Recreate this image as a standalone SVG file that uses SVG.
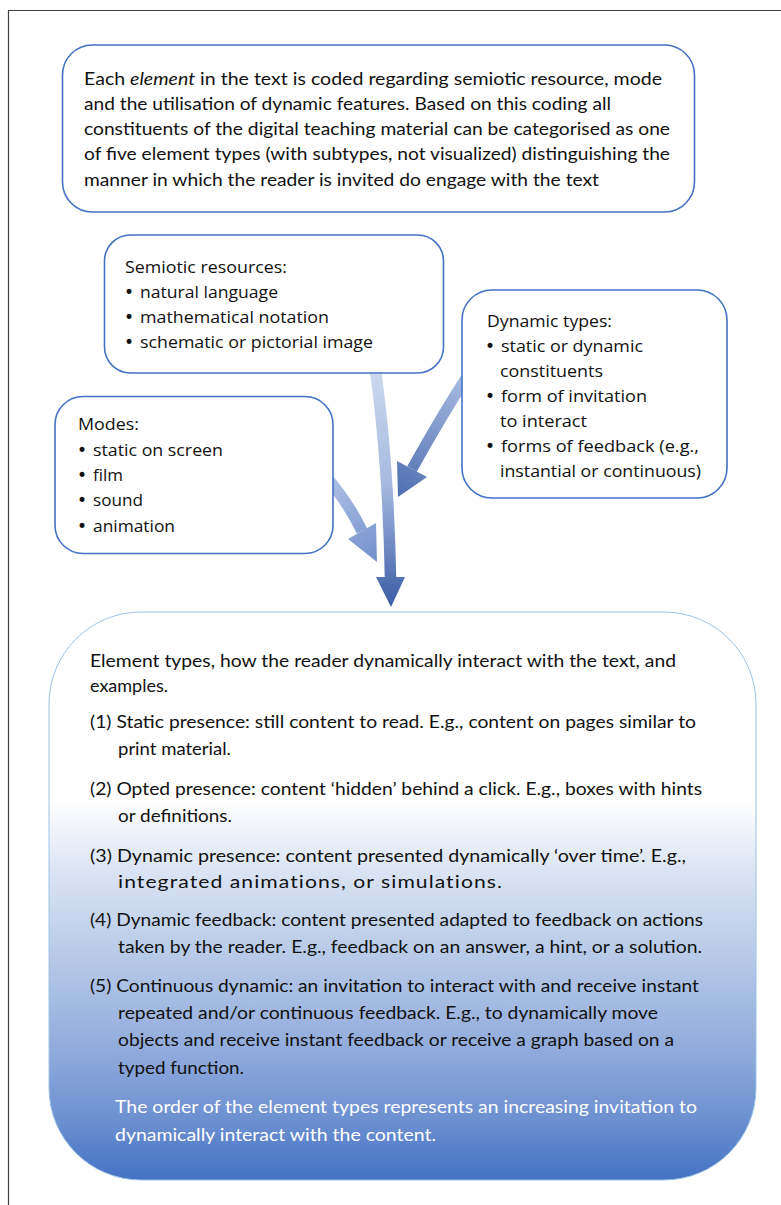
<svg xmlns="http://www.w3.org/2000/svg" width="781" height="1205" viewBox="0 0 781 1205">
<defs>
<linearGradient id="bigFill" x1="0" y1="0" x2="0" y2="1">
<stop offset="0" stop-color="#ffffff"/>
<stop offset="0.33" stop-color="#ffffff"/>
<stop offset="0.46" stop-color="#dae3f3"/>
<stop offset="0.62" stop-color="#b4c7e7"/>
<stop offset="0.78" stop-color="#8eaadb"/>
<stop offset="0.9" stop-color="#6a8ed0"/>
<stop offset="1" stop-color="#4472c4"/>
</linearGradient>
<linearGradient id="gSem" gradientUnits="userSpaceOnUse" x1="0" y1="360" x2="0" y2="607">
<stop offset="0" stop-color="#d0dbf0"/>
<stop offset="0.5" stop-color="#a6b9df"/>
<stop offset="1" stop-color="#3a5ca6"/>
</linearGradient>
<linearGradient id="gDyn" gradientUnits="userSpaceOnUse" x1="465" y1="375" x2="400" y2="495">
<stop offset="0" stop-color="#a9bce2"/>
<stop offset="1" stop-color="#5070b0"/>
</linearGradient>
<linearGradient id="gMod" gradientUnits="userSpaceOnUse" x1="330" y1="470" x2="377" y2="560">
<stop offset="0" stop-color="#b3c4e6"/>
<stop offset="1" stop-color="#7391cc"/>
</linearGradient>
</defs>
<style>
.box{fill:#ffffff;stroke:#4472c4;stroke-width:1.6}
.big{fill:url(#bigFill);stroke:#9dc3e6;stroke-width:1}
.cal{font-family:Lato,"Liberation Sans",sans-serif;font-size:18px;fill:#111111}
.seg{font-family:"Open Sans","Liberation Sans",sans-serif;font-size:16.5px;fill:#111111}
.bul{font-family:"DejaVu Sans",sans-serif;font-size:17px;fill:#111111}
.wht{fill:#ffffff}
.frame{stroke:#404040;stroke-width:1.2;fill:none}
</style>
<g id="frame">
<path class="frame" d="M8.5 1205 V10.5 H781"/>
</g>
<g id="connectors">
<path d="M374 360 Q388 455 390.5 578" fill="none" stroke="url(#gSem)" stroke-width="11.5"/>
<polygon points="376,577 405,577 391,607" fill="url(#gSem)"/>
<path d="M470 372 Q445 410 412 469" fill="none" stroke="url(#gDyn)" stroke-width="11"/>
<polygon points="397,461 427,477 398,497" fill="url(#gDyn)"/>
<path d="M322 472 Q347 500 362 531" fill="none" stroke="url(#gMod)" stroke-width="11.5"/>
<polygon points="348,539 376,523 377,562" fill="url(#gMod)"/>
</g>
<g id="node-intro">
<rect class="box" x="62.5" y="45" width="632" height="167" rx="30"/>
<text class="cal" x="84" y="85" textLength="578" lengthAdjust="spacingAndGlyphs">Each <tspan font-style="italic">element</tspan> in the text is coded regarding semiotic resource, mode</text>
<text class="cal" x="84" y="110" textLength="527" lengthAdjust="spacingAndGlyphs">and the utilisation of dynamic features. Based on this coding all</text>
<text class="cal" x="84" y="135" textLength="586" lengthAdjust="spacingAndGlyphs">constituents of the digital teaching material can be categorised as one</text>
<text class="cal" x="84" y="160" textLength="586" lengthAdjust="spacingAndGlyphs">of five element types (with subtypes, not visualized) distinguishing the</text>
<text class="cal" x="84" y="186" textLength="515" lengthAdjust="spacingAndGlyphs">manner in which the reader is invited do engage with the text</text>
</g>
<g id="node-semiotic">
<rect class="box" x="104.5" y="235" width="339" height="138" rx="26"/>
<text class="seg" x="125" y="273" textLength="162" lengthAdjust="spacingAndGlyphs">Semiotic resources:</text>
<text class="bul" x="124" y="298">•</text>
<text class="seg" x="140" y="298" textLength="138" lengthAdjust="spacingAndGlyphs">natural language</text>
<text class="bul" x="124" y="323">•</text>
<text class="seg" x="140" y="323" textLength="189" lengthAdjust="spacingAndGlyphs">mathematical notation</text>
<text class="bul" x="124" y="348">•</text>
<text class="seg" x="140" y="348" textLength="233" lengthAdjust="spacingAndGlyphs">schematic or pictorial image</text>
</g>
<g id="node-dynamic">
<rect class="box" x="462" y="290" width="265" height="208" rx="30"/>
<text class="seg" x="487" y="327" textLength="125" lengthAdjust="spacingAndGlyphs">Dynamic types:</text>
<text class="bul" x="485" y="352">•</text>
<text class="seg" x="501" y="352" textLength="142" lengthAdjust="spacingAndGlyphs">static or dynamic</text>
<text class="seg" x="500" y="377" textLength="103" lengthAdjust="spacingAndGlyphs">constituents</text>
<text class="bul" x="485" y="402">•</text>
<text class="seg" x="501" y="402" textLength="146" lengthAdjust="spacingAndGlyphs">form of invitation</text>
<text class="seg" x="500" y="427" textLength="87" lengthAdjust="spacingAndGlyphs">to interact</text>
<text class="bul" x="485" y="452">•</text>
<text class="seg" x="501" y="452" textLength="198" lengthAdjust="spacingAndGlyphs">forms of feedback (e.g.,</text>
<text class="seg" x="500" y="477" textLength="201" lengthAdjust="spacingAndGlyphs">instantial or continuous)</text>
</g>
<g id="node-modes">
<rect class="box" x="55" y="396.5" width="278" height="157" rx="28"/>
<text class="seg" x="78" y="430" textLength="61" lengthAdjust="spacingAndGlyphs">Modes:</text>
<text class="bul" x="77" y="456">•</text>
<text class="seg" x="93" y="456" textLength="130" lengthAdjust="spacingAndGlyphs">static on screen</text>
<text class="bul" x="77" y="481">•</text>
<text class="seg" x="93" y="481" textLength="30" lengthAdjust="spacingAndGlyphs">film</text>
<text class="bul" x="77" y="506">•</text>
<text class="seg" x="93" y="506" textLength="50" lengthAdjust="spacingAndGlyphs">sound</text>
<text class="bul" x="77" y="532">•</text>
<text class="seg" x="93" y="532" textLength="82" lengthAdjust="spacingAndGlyphs">animation</text>
</g>
<g id="node-element-types">
<rect class="big" x="49" y="612" width="707" height="568" rx="92"/>
<text class="cal" x="90" y="667" textLength="586" lengthAdjust="spacingAndGlyphs">Element types, how the reader dynamically interact with the text, and</text>
<text class="cal" x="90" y="692" textLength="78" lengthAdjust="spacingAndGlyphs">examples.</text>
<text class="cal" x="90" y="728" textLength="606" lengthAdjust="spacingAndGlyphs">(1) Static presence: still content to read. E.g., content on pages similar to</text>
<text class="cal" x="118" y="755" textLength="113" lengthAdjust="spacingAndGlyphs">print material.</text>
<text class="cal" x="90" y="795" textLength="612" lengthAdjust="spacingAndGlyphs">(2) Opted presence: content ‘hidden’ behind a click. E.g., boxes with hints</text>
<text class="cal" x="118" y="822" textLength="114" lengthAdjust="spacingAndGlyphs">or definitions.</text>
<text class="cal" x="90" y="862" textLength="596" lengthAdjust="spacingAndGlyphs">(3) Dynamic presence: content presented dynamically ‘over time’. E.g.,</text>
<text class="cal" x="118" y="888" letter-spacing="0.9" textLength="385" lengthAdjust="spacingAndGlyphs">integrated animations, or simulations.</text>
<text class="cal" x="90" y="926" textLength="613" lengthAdjust="spacingAndGlyphs">(4) Dynamic feedback: content presented adapted to feedback on actions</text>
<text class="cal" x="118" y="953" textLength="584" lengthAdjust="spacingAndGlyphs">taken by the reader. E.g., feedback on an answer, a hint, or a solution.</text>
<text class="cal" x="90" y="992" textLength="609" lengthAdjust="spacingAndGlyphs">(5) Continuous dynamic: an invitation to interact with and receive instant</text>
<text class="cal" x="118" y="1019" textLength="540" lengthAdjust="spacingAndGlyphs">repeated and/or continuous feedback. E.g., to dynamically move</text>
<text class="cal" x="118" y="1046" textLength="556" lengthAdjust="spacingAndGlyphs">objects and receive instant feedback or receive a graph based on a</text>
<text class="cal" x="118" y="1074" textLength="126" lengthAdjust="spacingAndGlyphs">typed function.</text>
<text class="cal wht" x="115" y="1113" textLength="582" lengthAdjust="spacingAndGlyphs">The order of the element types represents an increasing invitation to</text>
<text class="cal wht" x="115" y="1141" textLength="321" lengthAdjust="spacingAndGlyphs">dynamically interact with the content.</text>
</g>
</svg>
